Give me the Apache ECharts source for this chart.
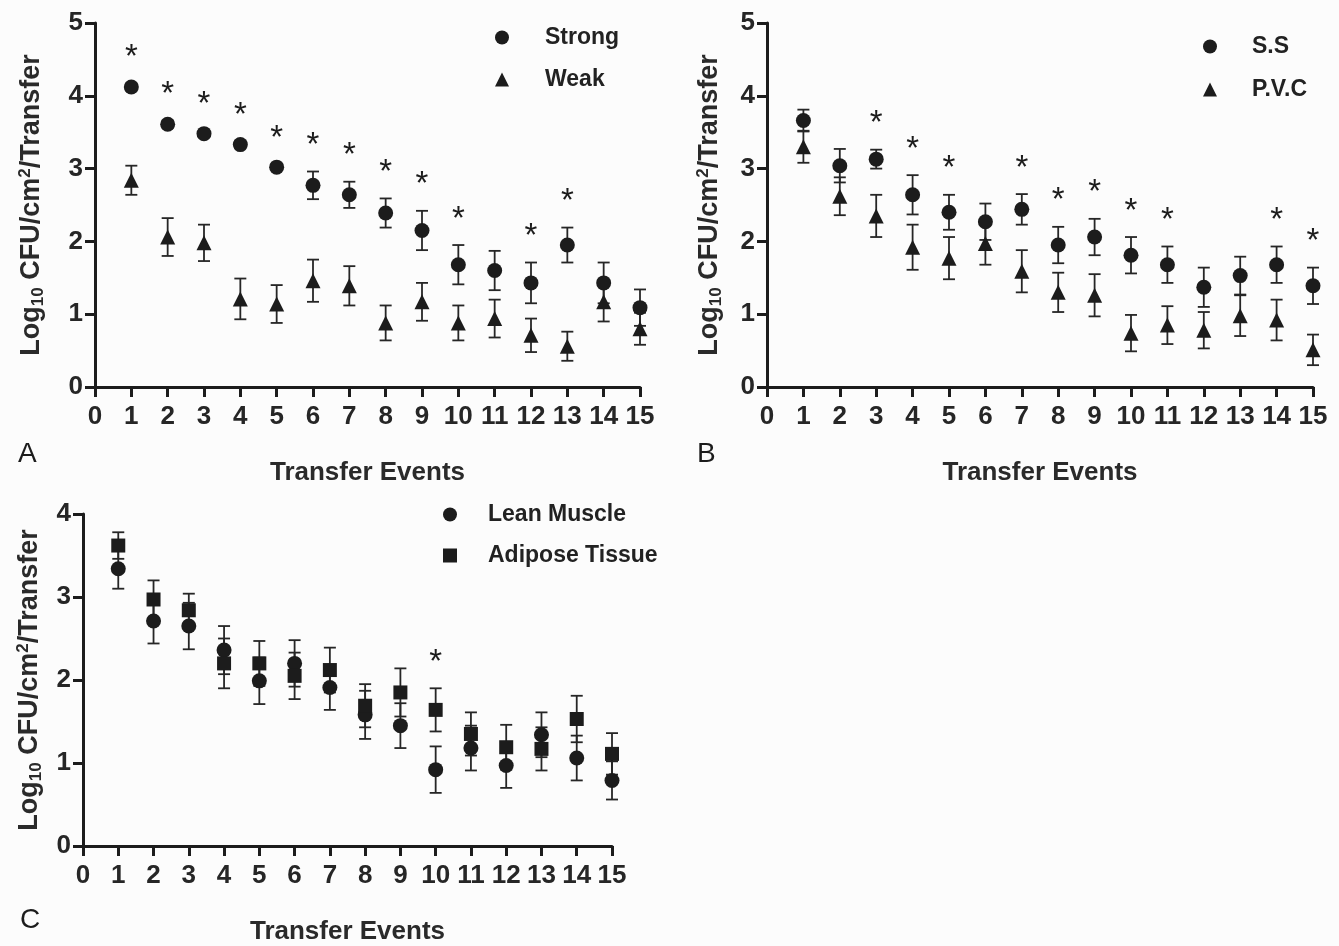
<!DOCTYPE html>
<html>
<head>
<meta charset="utf-8">
<script src="https://cdn.jsdelivr.net/npm/echarts@6/dist/echarts.min.js"></script>
<style>
  html, body { margin: 0; padding: 0; background: #fcfcfc; }
  #main { width: 1339px; height: 946px; }
</style>
</head>
<body>
<div id="main"></div>
<script>
// transfer events 1..15
const events = [1, 2, 3, 4, 5, 6, 7, 8, 9, 10, 11, 12, 13, 14, 15]

// A: biofilm strength
const strongMean = [4.12, 3.61, 3.48, 3.33, 3.02, 2.77, 2.64, 2.39, 2.15, 1.68, 1.60, 1.43, 1.95, 1.43, 1.09]
const strongErr  = [0.05, 0.05, 0.04, 0.05, 0.04, 0.19, 0.18, 0.20, 0.27, 0.27, 0.27, 0.28, 0.24, 0.28, 0.25]
const weakMean   = [2.84, 2.06, 1.98, 1.21, 1.14, 1.46, 1.39, 0.88, 1.17, 0.88, 0.94, 0.71, 0.56, 1.17, 0.80]
const weakErr    = [0.20, 0.26, 0.25, 0.28, 0.26, 0.29, 0.27, 0.24, 0.26, 0.24, 0.26, 0.23, 0.20, 0.27, 0.22]
const sigA = [1, 2, 3, 4, 5, 6, 7, 8, 9, 10, 12, 13]

// B: surface
const ssMean  = [3.66, 3.04, 3.13, 2.64, 2.40, 2.27, 2.44, 1.95, 2.06, 1.81, 1.68, 1.37, 1.53, 1.68, 1.39]
const ssErr   = [0.15, 0.23, 0.13, 0.27, 0.24, 0.25, 0.21, 0.25, 0.25, 0.25, 0.25, 0.27, 0.26, 0.25, 0.25]
const pvcMean = [3.30, 2.62, 2.35, 1.92, 1.77, 1.97, 1.59, 1.30, 1.26, 0.74, 0.85, 0.78, 0.98, 0.92, 0.51]
const pvcErr  = [0.22, 0.26, 0.29, 0.31, 0.29, 0.29, 0.29, 0.27, 0.29, 0.25, 0.26, 0.25, 0.28, 0.28, 0.21]
const sigB = [3, 4, 5, 7, 8, 9, 10, 11, 14, 15]

// C: tissue
const leanMean    = [3.34, 2.71, 2.65, 2.36, 1.99, 2.20, 1.91, 1.58, 1.45, 0.92, 1.18, 0.97, 1.34, 1.06, 0.79]
const leanErr     = [0.24, 0.27, 0.28, 0.29, 0.28, 0.28, 0.27, 0.29, 0.27, 0.28, 0.27, 0.27, 0.27, 0.27, 0.23]
const adiposeMean = [3.62, 2.97, 2.84, 2.20, 2.20, 2.05, 2.12, 1.69, 1.85, 1.64, 1.35, 1.19, 1.17, 1.53, 1.11]
const adiposeErr  = [0.16, 0.23, 0.20, 0.30, 0.27, 0.28, 0.27, 0.26, 0.29, 0.26, 0.26, 0.27, 0.26, 0.28, 0.25]
const sigC = [10]

const FONT = '"Liberation Sans", Arial, Helvetica, sans-serif'
const INK = '#1c1c1c'

var myChart = echarts.init(document.getElementById('main'))

// 均值点 + 误差线
function pts(mean) {
    return events.map((x, i) => [x, mean[i]])
}
function errData(mean, err) {
    return events.map((x, i) => [x, mean[i], err[i]])
}
function sigData(sig, means, errs) {
    // star sits above the highest error cap at that event
    return sig.map(x => {
        let i = x - 1
        let top = Math.max(...means.map((m, k) => m[i] + errs[k][i]))
        return [x, top]
    })
}

function errorBar(gi, mean, err) {
    return {
        type: 'custom',
        xAxisIndex: gi,
        yAxisIndex: gi,
        z: 2,
        silent: true,
        renderItem(params, api) {
            let x = api.value(0), y = api.value(1), e = api.value(2)
            let hi = api.coord([x, y + e])
            let lo = api.coord([x, y - e])
            let w = 6
            let st = { stroke: '#262626', lineWidth: 1.8 }
            return {
                type: 'group',
                children: [
                    { type: 'line', shape: { x1: hi[0], y1: hi[1], x2: lo[0], y2: lo[1] }, style: st },
                    { type: 'line', shape: { x1: hi[0] - w, y1: hi[1], x2: hi[0] + w, y2: hi[1] }, style: st },
                    { type: 'line', shape: { x1: lo[0] - w, y1: lo[1], x2: lo[0] + w, y2: lo[1] }, style: st }
                ]
            }
        },
        data: errData(mean, err)
    }
}

function marks(gi, name, symbol, size, mean) {
    return {
        name: name,
        type: 'scatter',
        xAxisIndex: gi,
        yAxisIndex: gi,
        symbol: symbol,
        symbolSize: size,
        z: 3,
        itemStyle: { color: INK, opacity: 1 },
        data: pts(mean)
    }
}

function stars(gi, data) {
    return {
        type: 'custom',
        xAxisIndex: gi,
        yAxisIndex: gi,
        z: 4,
        silent: true,
        renderItem(params, api) {
            let p = api.coord([api.value(0), api.value(1)])
            return {
                type: 'text',
                x: p[0],
                y: p[1] - 9,
                style: {
                    text: '*',
                    fill: INK,
                    font: '33px ' + FONT,
                    align: 'center',
                    verticalAlign: 'bottom'
                }
            }
        },
        data: data
    }
}

function xAxisFor(gi) {
    return {
        gridIndex: gi,
        type: 'value',
        min: 0,
        max: 15,
        interval: 1,
        name: 'Transfer Events',
        nameLocation: 'middle',
        nameGap: 73,
        nameTextStyle: { fontFamily: FONT, fontWeight: 'bold', fontSize: 26, color: '#2a2a2a' },
        axisLine: { show: true, onZero: false, lineStyle: { color: INK, width: 3 } },
        axisTick: { show: true, length: 10, lineStyle: { color: INK, width: 3 } },
        axisLabel: { margin: 17, fontFamily: FONT, fontWeight: 'bold', fontSize: 26, color: '#262626' },
        splitLine: { show: false }
    }
}

const yName = '{a|Log}{sub|10}{a| CFU/cm}{sup|2}{a|/Transfer}'
function yAxisFor(gi, max, gap) {
    return {
        gridIndex: gi,
        type: 'value',
        min: 0,
        max: max,
        interval: 1,
        name: yName,
        nameLocation: 'middle',
        nameGap: gap,
        nameTextStyle: {
            fontFamily: FONT, fontWeight: 'bold', fontSize: 27, color: '#2a2a2a',
            rich: {
                a: { fontFamily: FONT, fontWeight: 'bold', fontSize: 27, color: '#2a2a2a' },
                sub: { fontFamily: FONT, fontWeight: 'bold', fontSize: 17, color: '#2a2a2a', padding: [12, 0, 0, 0] },
                sup: { fontFamily: FONT, fontWeight: 'bold', fontSize: 17, color: '#2a2a2a', padding: [0, 0, 13, 0] }
            }
        },
        axisLine: { show: true, onZero: false, lineStyle: { color: INK, width: 3 } },
        axisTick: { show: true, length: 10, lineStyle: { color: INK, width: 3 } },
        axisLabel: { margin: 12, fontFamily: FONT, fontWeight: 'bold', fontSize: 26, color: '#262626' },
        splitLine: { show: false }
    }
}

function legendFor(left, top, gap, pad, items) {
    return {
        left: left,
        top: top,
        orient: 'vertical',
        itemWidth: 14,
        itemHeight: 14,
        itemGap: gap,
        selectedMode: false,
        formatter: '{t|{name}}',
        textStyle: {
            rich: {
                t: { fontFamily: FONT, fontWeight: 'bold', fontSize: 23, color: '#222', lineHeight: 22, padding: [0, 0, 0, pad] }
            }
        },
        data: items
    }
}

let option = {
    backgroundColor: '#fcfcfc',
    animation: false,
    grid: [
        { left: 95, top: 23, width: 545, height: 364 },
        { left: 767, top: 23, width: 546, height: 364 },
        { left: 83, top: 514, width: 529, height: 349 }
    ],
    xAxis: [xAxisFor(0), xAxisFor(1), xAxisFor(2)],
    yAxis: [yAxisFor(0, 5, 48), yAxisFor(1, 5, 42), yAxisFor(2, 4, 38)],
    legend: [
        legendFor(490, 21, 19, 31, [{ name: 'Strong', icon: 'circle' }, { name: 'Weak', icon: 'triangle' }]),
        legendFor(1198, 30, 20, 30, [{ name: 'S.S', icon: 'circle' }, { name: 'P.V.C', icon: 'triangle' }]),
        legendFor(438, 498, 18, 26, [{ name: 'Lean Muscle', icon: 'circle' }, { name: 'Adipose Tissue', icon: 'rect' }])
    ],
    graphic: [
        { type: 'text', left: 18, top: 440, style: { text: 'A', font: '28px ' + FONT, fill: INK } },
        { type: 'text', left: 697, top: 440, style: { text: 'B', font: '28px ' + FONT, fill: INK } },
        { type: 'text', left: 20, top: 906, style: { text: 'C', font: '28px ' + FONT, fill: INK } }
    ],
    series: [
        errorBar(0, strongMean, strongErr),
        errorBar(0, weakMean, weakErr),
        marks(0, 'Strong', 'circle', 15, strongMean),
        marks(0, 'Weak', 'triangle', 15, weakMean),
        stars(0, sigData(sigA, [strongMean, weakMean], [strongErr, weakErr])),

        errorBar(1, ssMean, ssErr),
        errorBar(1, pvcMean, pvcErr),
        marks(1, 'S.S', 'circle', 15, ssMean),
        marks(1, 'P.V.C', 'triangle', 15, pvcMean),
        stars(1, sigData(sigB, [ssMean, pvcMean], [ssErr, pvcErr])),

        errorBar(2, leanMean, leanErr),
        errorBar(2, adiposeMean, adiposeErr),
        marks(2, 'Lean Muscle', 'circle', 15, leanMean),
        marks(2, 'Adipose Tissue', 'rect', 14, adiposeMean),
        stars(2, sigData(sigC, [leanMean, adiposeMean], [leanErr, adiposeErr]))
    ]
}
myChart.setOption(option)
</script>
</body>
</html>
